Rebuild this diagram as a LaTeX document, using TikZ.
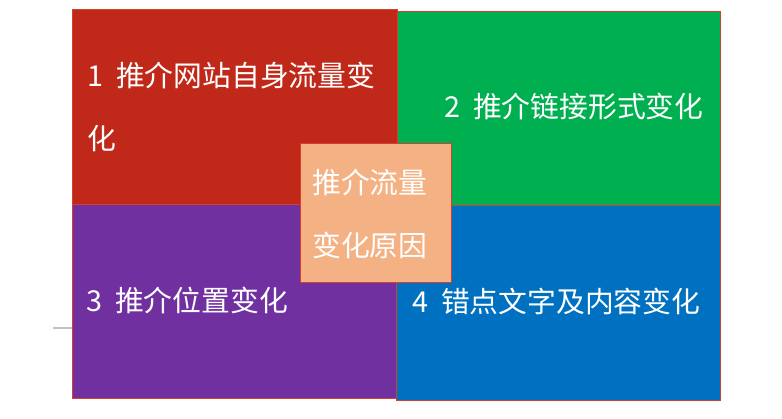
\documentclass[tikz,border=0pt]{standalone}
\usepackage{fontspec}
\newfontfamily\cjk{Noto Sans CJK SC}
\definecolor{cred}{RGB}{192,41,26}
\definecolor{cgreen}{RGB}{0,176,80}
\definecolor{cpurple}{RGB}{112,48,160}
\definecolor{cblue}{RGB}{0,112,192}
\definecolor{corange}{RGB}{244,177,131}
\definecolor{cborder}{RGB}{214,62,46}
\definecolor{cgray}{RGB}{192,192,192}
\newcommand{\numgap}{\hspace{0.45em}}
\begin{document}
\begin{tikzpicture}[x=1pt,y=-1pt,
  quad/.style={draw=cborder,line width=1.4pt,inner sep=0pt,anchor=north west},
  lbl/.style={text=white,font={\cjk\fontsize{28.8}{28.8}\selectfont},inner sep=0pt,anchor=base west}]
\useasboundingbox[fill=white] (0,0) rectangle (782,419);
% small gray tick at left
\coordinate (g1) at (53,328);
\coordinate (g2) at (72,328);
\draw[cgray,line width=2pt] (g1) -- (g2);
% quadrants
\node[quad,fill=cred,minimum width=325pt,minimum height=195pt] (q1) at (72,9) {};
\node[quad,fill=cgreen,minimum width=323pt,minimum height=194pt] (q2) at (397,11) {};
\node[quad,fill=cpurple,minimum width=325pt,minimum height=194pt] (q3) at (72,204) {};
\node[quad,fill=cblue,minimum width=324pt,minimum height=195pt] (q4) at (396,205) {};
% labels
\node[lbl] (t1a) at (87,87) {1\numgap 推介网站自身流量变};
\node[lbl] (t1b) at (87,150) {化};
\node[lbl] (t2) at (444,118) {2\numgap 推介链接形式变化};
\node[lbl] (t3) at (86,312) {3\numgap 推介位置变化};
\node[lbl] (t4) at (412,313) {4\numgap 错点文字及内容变化};
% centre box
\node[quad,fill=corange,line width=1.2pt,minimum width=151pt,minimum height=139pt] (c) at (300,143) {};
\node[lbl] (ca) at (312,194) {推介流量};
\node[lbl] (cb) at (312,257) {变化原因};
\end{tikzpicture}
\end{document}
